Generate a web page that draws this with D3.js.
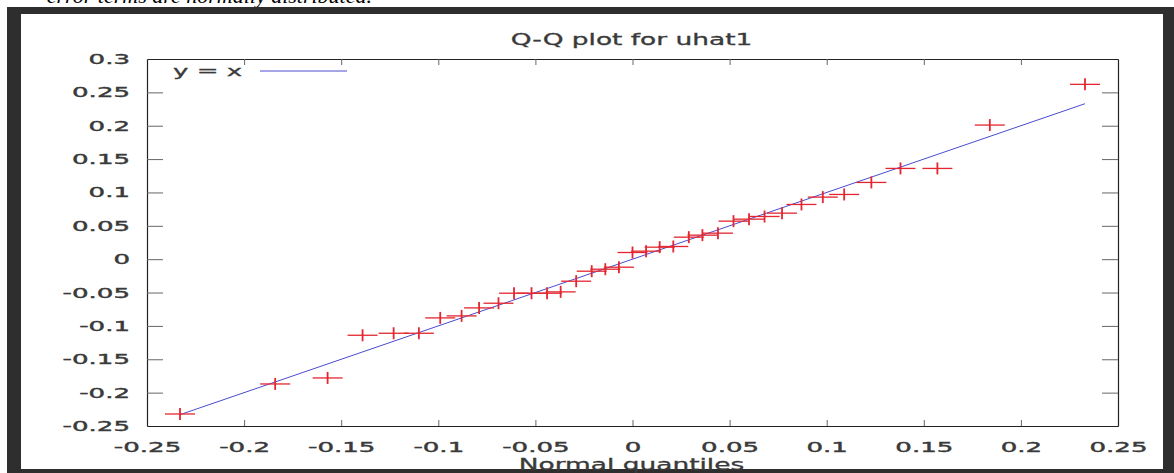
<!DOCTYPE html>
<html>
<head>
<meta charset="utf-8">
<script src="https://cdn.jsdelivr.net/npm/d3@7"></script>
<style>
  body { margin: 0; background: #fff; }
  svg { display: block; }
</style>
</head>
<body>
<div id="qq-chart"></div>
<script>
// normal quantiles (x) and sorted residuals uhat1 (y)
var quantiles = [-0.233, -0.184, -0.157, -0.139, -0.123, -0.110, -0.099, -0.088, -0.079, -0.069,
  -0.061, -0.052, -0.044, -0.037, -0.029, -0.021, -0.014, -0.007, 0.000, 0.007,
  0.014, 0.021, 0.029, 0.036, 0.044, 0.052, 0.060, 0.068, 0.077, 0.087,
  0.098, 0.109, 0.123, 0.138, 0.157, 0.184, 0.233];
var residuals = [-0.232, -0.187, -0.178, -0.114, -0.111, -0.111, -0.088, -0.085, -0.073, -0.066,
  -0.051, -0.051, -0.051, -0.049, -0.033, -0.018, -0.015, -0.012, 0.010, 0.012,
  0.018, 0.019, 0.033, 0.036, 0.039, 0.057, 0.060, 0.064, 0.069, 0.082,
  0.093, 0.097, 0.115, 0.136, 0.136, 0.201, 0.262];

var xTicks = [-0.25, -0.2, -0.15, -0.1, -0.05, 0, 0.05, 0.1, 0.15, 0.2, 0.25];
var xTickLabels = ['-0.25', '-0.2', '-0.15', '-0.1', '-0.05', '0', '0.05', '0.1', '0.15', '0.2', '0.25'];
var yTicks = [-0.25, -0.2, -0.15, -0.1, -0.05, 0, 0.05, 0.1, 0.15, 0.2, 0.25, 0.3];
var yTickLabels = ['-0.25', '-0.2', '-0.15', '-0.1', '-0.05', '0', '0.05', '0.1', '0.15', '0.2', '0.25', '0.3'];

var titleText = 'Q-Q plot for uhat1';
var xLabelText = 'Normal quantiles';
var legendText = 'y = x';

var width = 1174, height = 473;
var plotLeft = 147, plotRight = 1118, plotTop = 59, plotBottom = 426;
var font = '"DejaVu Sans", Verdana, sans-serif';
var lineColor = '#4b4bd0';
var markColor = '#e3262f';
var textColor = '#3a3a3a';

var svg = d3.select('#qq-chart').append('svg')
  .attr('width', width)
  .attr('height', height);

// cut-off text of the document above the screenshot
svg.append('text')
  .attr('x', 372)
  .attr('y', 3)
  .attr('text-anchor', 'end')
  .attr('font-family', '"Liberation Serif", "Times New Roman", serif')
  .attr('font-style', 'italic')
  .attr('font-size', 22)
  .attr('fill', '#000')
  .text('error terms are normally distributed.');

// dark window frame
svg.append('rect')
  .attr('x', 7).attr('y', 7)
  .attr('width', width - 7).attr('height', height - 7)
  .attr('fill', '#2e2e2e');
svg.append('rect')
  .attr('x', 21).attr('y', 14)
  .attr('width', 1163 - 21).attr('height', 469 - 14)
  .attr('fill', '#fff');

var x = d3.scaleLinear().domain([-0.25, 0.25]).range([plotLeft, plotRight]);
var y = d3.scaleLinear().domain([-0.25, 0.3]).range([plotBottom, plotTop]);

var fmtX = function(d, i){ return xTickLabels[i]; };
var fmtY = function(d, i){ return yTickLabels[i]; };

var axB = svg.append('g').attr('transform', 'translate(0,' + plotBottom + ')')
  .call(d3.axisBottom(x).tickValues(xTicks).tickFormat(fmtX).tickSizeInner(-6).tickSizeOuter(0).tickPadding(16));
var axT = svg.append('g').attr('transform', 'translate(0,' + plotTop + ')')
  .call(d3.axisTop(x).tickValues(xTicks).tickFormat('').tickSizeInner(-6).tickSizeOuter(0));
var axL = svg.append('g').attr('transform', 'translate(' + plotLeft + ',0)')
  .call(d3.axisLeft(y).tickValues(yTicks).tickFormat(fmtY).tickSizeInner(-16).tickSizeOuter(0).tickPadding(17));
var axR = svg.append('g').attr('transform', 'translate(' + plotRight + ',0)')
  .call(d3.axisRight(y).tickValues(yTicks).tickFormat('').tickSizeInner(-16).tickSizeOuter(0));

[axB, axT, axL, axR].forEach(function(ax){
  ax.select('.domain').attr('stroke', '#222').attr('stroke-width', 1.2);
  ax.selectAll('.tick line').attr('stroke', '#666');
  ax.selectAll('.tick text')
    .attr('font-family', font)
    .attr('font-size', 14)
    .attr('fill', textColor)
    .attr('stroke', textColor)
    .attr('stroke-width', 0.4)
    .classed('stretch', true);
});
// drop ticks that sit on the frame corners
[axB, axT].forEach(function(ax){
  ax.selectAll('.tick line').filter(function(d){ return d === -0.25 || d === 0.25; }).remove();
});
[axL, axR].forEach(function(ax){
  ax.selectAll('.tick line').filter(function(d){ return d === -0.25 || d === 0.3; }).remove();
});

// title
svg.append('text')
  .attr('class', 'stretch15')
  .attr('x', (plotLeft + plotRight) / 2 - 1)
  .attr('y', 45)
  .attr('text-anchor', 'middle')
  .attr('font-family', font)
  .attr('font-size', 15)
  .attr('fill', textColor)
  .attr('stroke', textColor)
  .attr('stroke-width', 0.3)
  .text(titleText);

// x label
svg.append('text')
  .attr('class', 'stretch15')
  .attr('x', (plotLeft + plotRight) / 2 - 1)
  .attr('y', 470)
  .attr('text-anchor', 'middle')
  .attr('font-family', font)
  .attr('font-size', 15)
  .attr('fill', textColor)
  .attr('stroke', textColor)
  .attr('stroke-width', 0.3)
  .text(xLabelText);

// y = x reference line
var qMin = d3.min(quantiles), qMax = d3.max(quantiles);
svg.append('line')
  .attr('x1', x(qMin)).attr('y1', y(qMin))
  .attr('x2', x(qMax)).attr('y2', y(qMax))
  .attr('stroke', lineColor)
  .attr('stroke-width', 1);

// legend
svg.append('text')
  .attr('class', 'stretch')
  .attr('x', 173)
  .attr('y', 76)
  .attr('font-family', font)
  .attr('font-size', 14)
  .attr('fill', textColor)
  .attr('stroke', textColor)
  .attr('stroke-width', 0.3)
  .text(legendText);
svg.append('line')
  .attr('x1', 260).attr('x2', 347)
  .attr('y1', 71).attr('y2', 71)
  .attr('stroke', lineColor)
  .attr('stroke-width', 1);

// point markers (+)
var pts = svg.append('g').selectAll('g')
  .data(quantiles)
  .enter()
  .append('g')
  .attr('transform', function(d, i){
    return 'translate(' + x(d) + ',' + y(residuals[i]) + ')';
  });
pts.append('line')
  .attr('x1', -15).attr('x2', 15).attr('y1', 0).attr('y2', 0)
  .attr('stroke', markColor).attr('stroke-width', 1.3);
pts.append('line')
  .attr('x1', 0).attr('x2', 0).attr('y1', -6).attr('y2', 6)
  .attr('stroke', markColor).attr('stroke-width', 1.8);

// the screenshot is stretched horizontally, so stretch the text too
svg.selectAll('.stretch').each(function(){
  var len = this.getComputedTextLength();
  d3.select(this).attr('textLength', len * 1.86).attr('lengthAdjust', 'spacingAndGlyphs');
});
svg.selectAll('.stretch15').each(function(){
  var len = this.getComputedTextLength();
  d3.select(this).attr('textLength', len * 1.76).attr('lengthAdjust', 'spacingAndGlyphs');
});
</script>
</body>
</html>
